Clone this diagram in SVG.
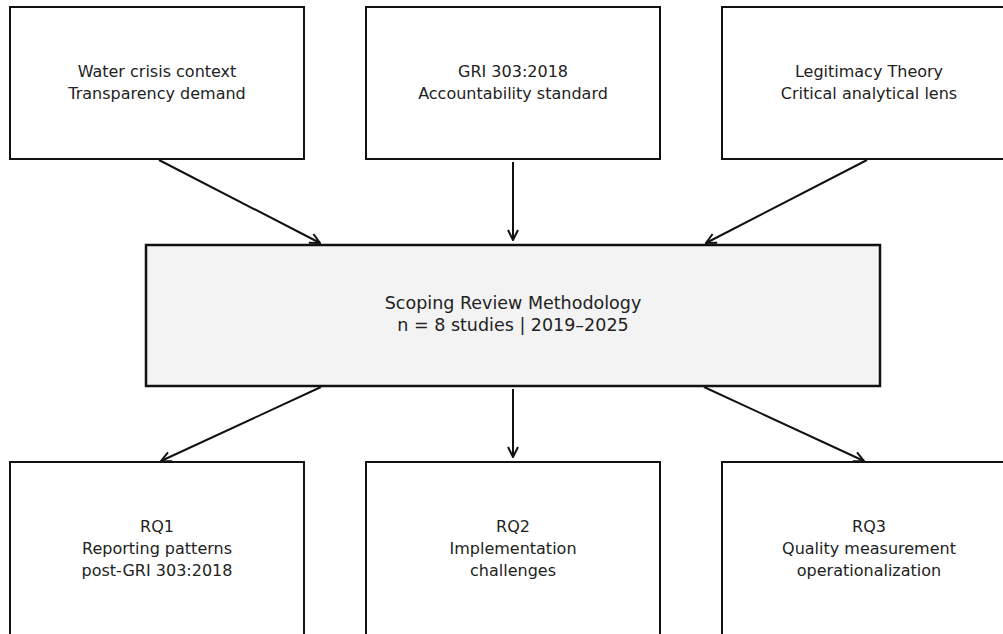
<svg xmlns="http://www.w3.org/2000/svg" width="1003" height="634" viewBox="0 0 1003 634">
<defs>
<style>
.box{fill:#ffffff;stroke:#111;stroke-width:2}
.main{fill:#f3f3f3;stroke:#111;stroke-width:2.5}
.t{font-family:"DejaVu Sans",sans-serif;font-size:16px;fill:#222;text-anchor:middle}
.tm{font-family:"DejaVu Sans",sans-serif;font-size:17.5px;fill:#222;text-anchor:middle}
.c{stroke:#111;stroke-width:2;fill:none;marker-end:url(#ah)}
</style>
<marker id="ah" viewBox="0 0 12 12" refX="11" refY="6" markerWidth="12" markerHeight="12" markerUnits="userSpaceOnUse" orient="auto">
<path d="M1,1 L11,6 L1,11" fill="none" stroke="#111" stroke-width="2"/>
</marker>
</defs>
<rect width="1003" height="634" fill="#fff"/>
<g id="connectors">
<line class="c" x1="159" y1="160" x2="320" y2="243"/>
<line class="c" x1="513" y1="162" x2="513" y2="240"/>
<line class="c" x1="867" y1="160" x2="706" y2="243"/>
<line class="c" x1="321" y1="387" x2="161" y2="461"/>
<line class="c" x1="513" y1="389" x2="513" y2="457"/>
<line class="c" x1="704" y1="387" x2="864" y2="461"/>
</g>
<g id="n1"><rect class="box" x="10" y="7" width="294" height="152"/>
<text class="t" x="157" y="77">Water crisis context</text><text class="t" x="157" y="99">Transparency demand</text></g>
<g id="n2"><rect class="box" x="366" y="7" width="294" height="152"/>
<text class="t" x="513" y="77">GRI 303:2018</text><text class="t" x="513" y="99">Accountability standard</text></g>
<g id="n3"><rect class="box" x="722" y="7" width="294" height="152"/>
<text class="t" x="869" y="77">Legitimacy Theory</text><text class="t" x="869" y="99">Critical analytical lens</text></g>
<g id="center"><rect class="main" x="146" y="245" width="734" height="141"/>
<text class="tm" x="513" y="309">Scoping Review Methodology</text><text class="tm" x="513" y="331">n = 8 studies | 2019–2025</text></g>
<g id="rq1"><rect class="box" x="10" y="462" width="294" height="180"/>
<text class="t" x="157" y="532">RQ1</text><text class="t" x="157" y="554">Reporting patterns</text><text class="t" x="157" y="576">post-GRI 303:2018</text></g>
<g id="rq2"><rect class="box" x="366" y="462" width="294" height="180"/>
<text class="t" x="513" y="532">RQ2</text><text class="t" x="513" y="554">Implementation</text><text class="t" x="513" y="576">challenges</text></g>
<g id="rq3"><rect class="box" x="722" y="462" width="294" height="180"/>
<text class="t" x="869" y="532">RQ3</text><text class="t" x="869" y="554">Quality measurement</text><text class="t" x="869" y="576">operationalization</text></g>
</svg>
